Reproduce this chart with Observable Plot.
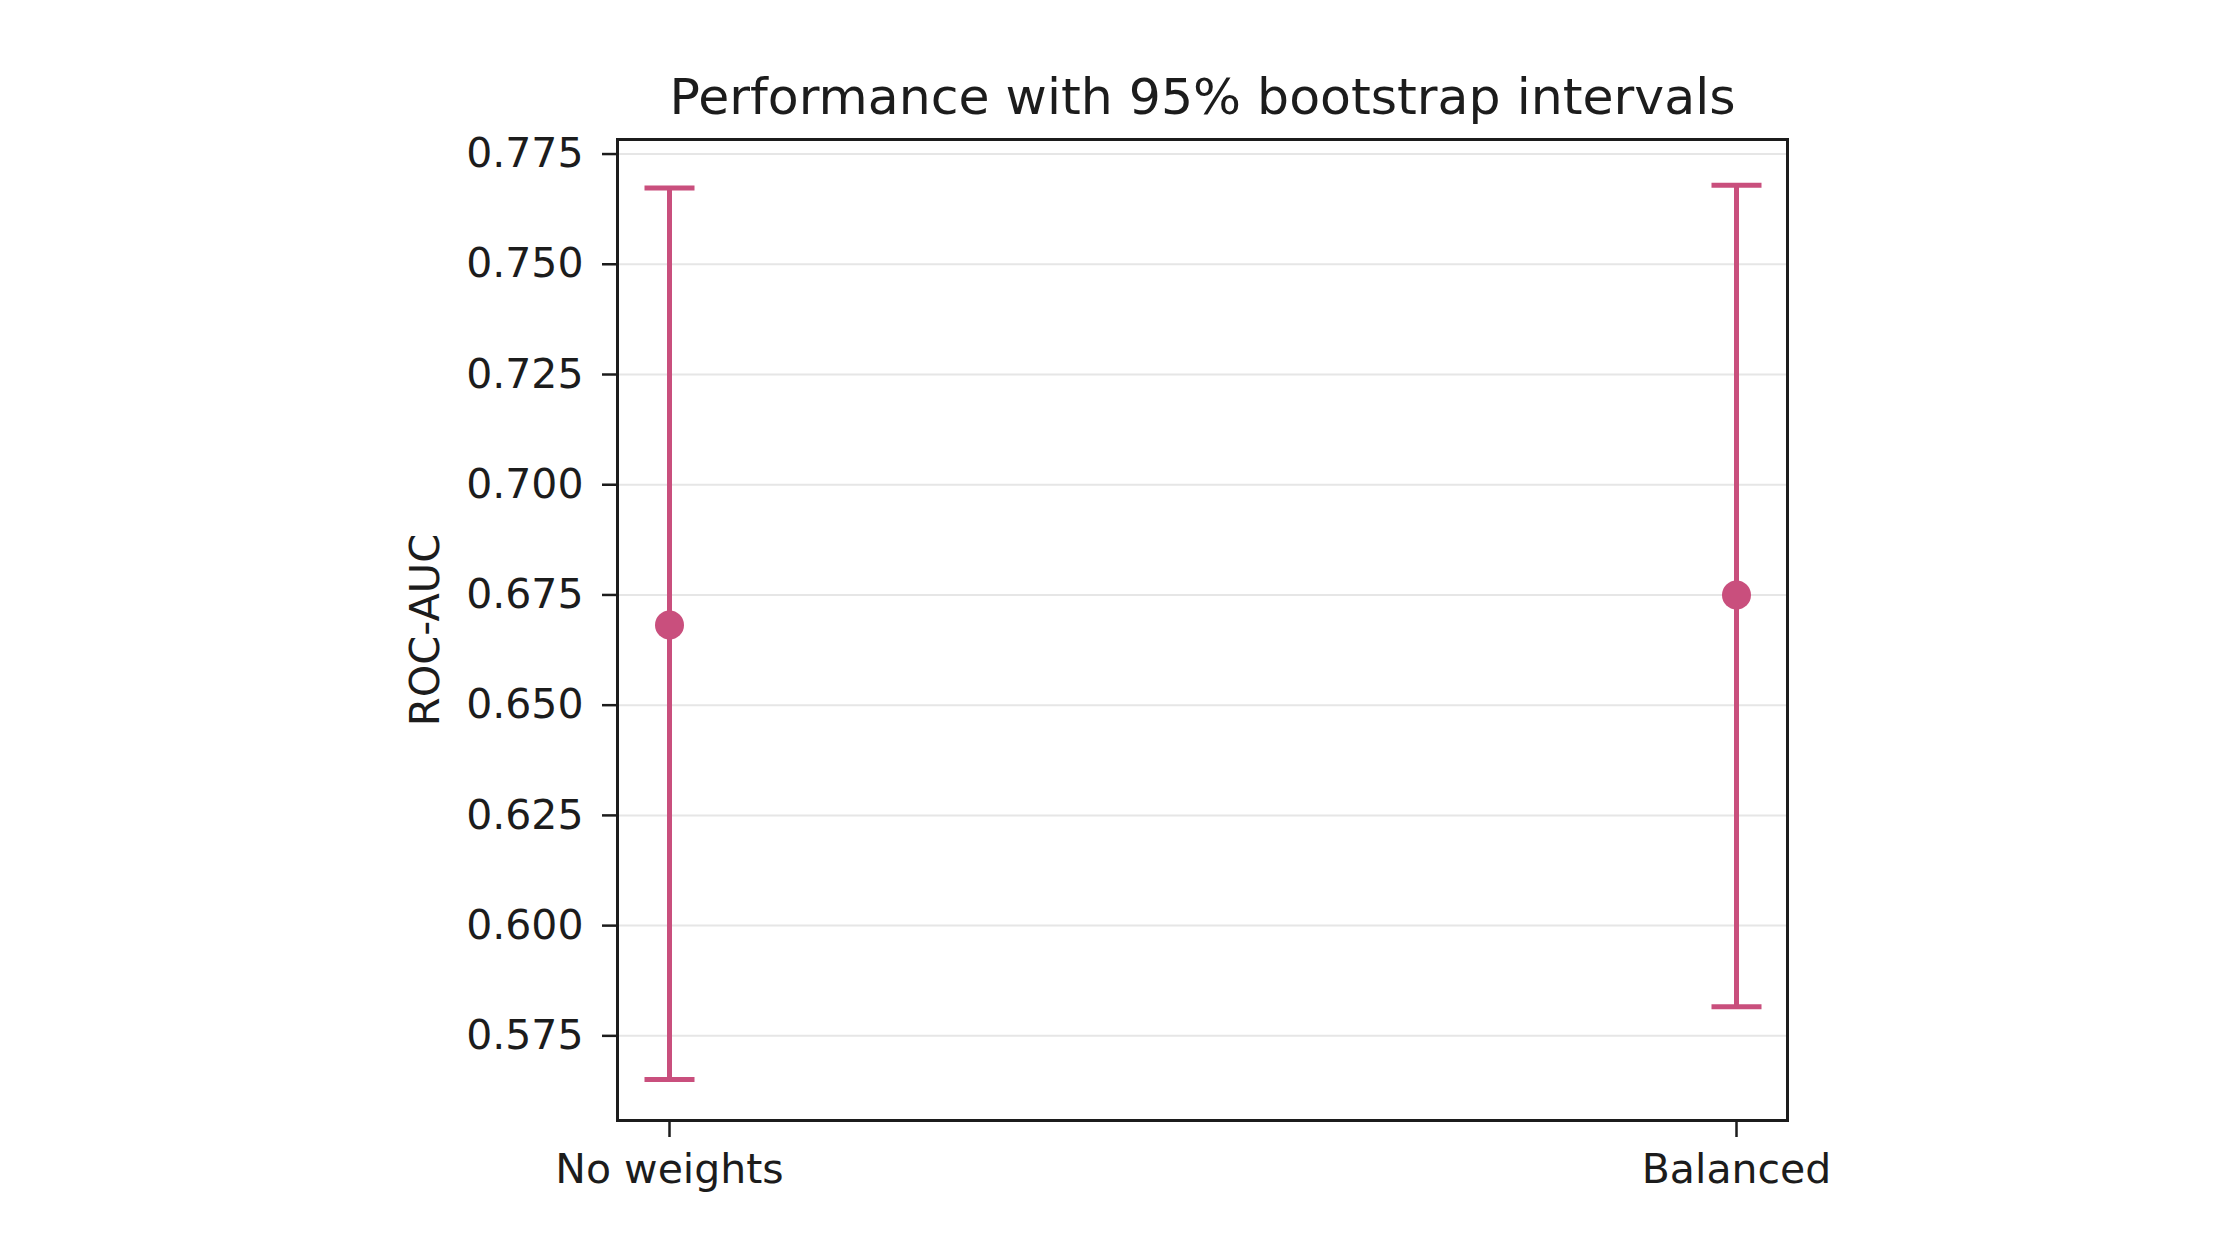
<!DOCTYPE html>
<html>
<head>
<meta charset="utf-8">
<script src="https://cdn.jsdelivr.net/npm/d3@7"></script>
<script src="https://cdn.jsdelivr.net/npm/@observablehq/plot@0.6"></script>
<style>
  html, body { margin: 0; padding: 0; background: #fff; }
  #chart svg { display: block; }
</style>
</head>
<body>
<div id="chart"></div>
<script>
const models = ["No weights", "Balanced"];
const auc = [0.6682, 0.6750];
const lower = [0.5651, 0.5816];
const upper = [0.7673, 0.7679];
const yTicks = [0.575, 0.600, 0.625, 0.650, 0.675, 0.700, 0.725, 0.750, 0.775];
const yDomain = [0.5558, 0.7783];
const titleText = "Performance with 95% bootstrap intervals";
const yLabel = "ROC-AUC";

const color = "#c94f7d";
const ink = "#1c1c1c";
const font = "DejaVu Sans";

const data = models.map((m, i) => ({model: m, auc: auc[i], lo: lower[i], hi: upper[i]}));

// horizontal cap symbol (half-length = r)
const capSymbol = {
  draw(context, size) {
    const w = Math.sqrt(size / Math.PI);
    context.moveTo(-w, 0);
    context.lineTo(w, 0);
  }
};

const caps = data.flatMap(d => [{model: d.model, v: d.lo}, {model: d.model, v: d.hi}]);

const chart = Plot.plot({
  width: 2240,
  height: 1260,
  marginLeft: 617,
  marginRight: 453,
  marginTop: 139,
  marginBottom: 140,
  style: {fontFamily: font, fontSize: "41px", color: ink, background: "#fff"},
  x: {type: "point", domain: models, padding: 0.048, label: null},
  y: {domain: yDomain, label: null},
  marks: [
    Plot.ruleY(yTicks, {stroke: "#e6e6e6", strokeWidth: 2}),
    Plot.axisY({ticks: yTicks, tickFormat: d3.format(".3f"), tickSize: 15, tickPadding: 19, strokeWidth: 2.5, stroke: ink, fill: ink, label: null}),
    Plot.axisX({tickSize: 17, tickPadding: 16, strokeWidth: 2.5, stroke: ink, fill: ink, label: null}),
    Plot.text([yLabel], {frameAnchor: "left", dx: -192, rotate: -90, fill: ink, fontSize: 41.5, fontFamily: font, textAnchor: "middle", lineAnchor: "middle"}),
    Plot.text([titleText], {frameAnchor: "top", dy: -26, lineAnchor: "bottom", fill: ink, fontSize: 50.5, fontFamily: font}),
    Plot.ruleX(data, {x: "model", y1: "lo", y2: "hi", stroke: color, strokeWidth: 5}),
    Plot.dot(caps, {x: "model", y: "v", symbol: capSymbol, r: 25, stroke: color, strokeWidth: 5, fill: "none"}),
    Plot.dot(data, {x: "model", y: "auc", r: 14.5, fill: color, stroke: "none"}),
    Plot.frame({stroke: ink, strokeWidth: 3})
  ]
});
document.getElementById("chart").appendChild(chart);
</script>
</body>
</html>
